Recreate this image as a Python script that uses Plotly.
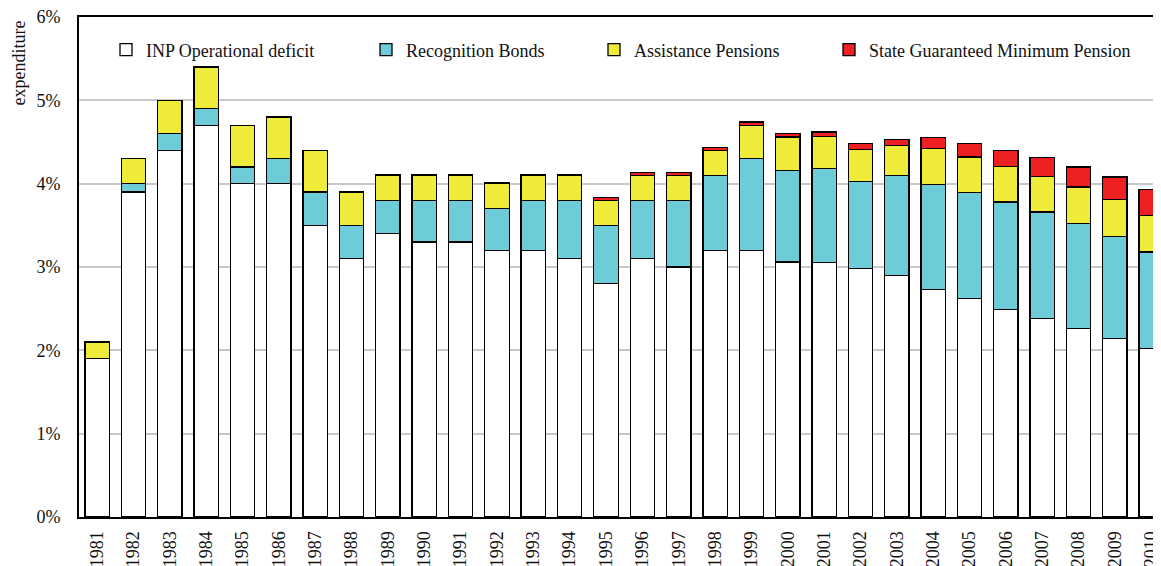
import plotly.graph_objects as go

years = [str(y) for y in range(1981, 2011)]
inp_deficit = [1.90, 3.90, 4.40, 4.70, 4.00, 4.00, 3.50, 3.10, 3.40, 3.30,
               3.30, 3.20, 3.20, 3.10, 2.80, 3.10, 3.00, 3.20, 3.20, 3.06,
               3.05, 2.98, 2.90, 2.73, 2.62, 2.49, 2.38, 2.26, 2.14, 2.02]
recognition_bonds = [0.00, 0.10, 0.20, 0.20, 0.20, 0.30, 0.40, 0.40, 0.40, 0.50,
                     0.50, 0.50, 0.60, 0.70, 0.70, 0.70, 0.80, 0.90, 1.10, 1.10,
                     1.13, 1.05, 1.20, 1.26, 1.27, 1.29, 1.28, 1.26, 1.23, 1.16]
assistance_pensions = [0.20, 0.30, 0.40, 0.50, 0.50, 0.50, 0.50, 0.40, 0.30, 0.30,
                       0.30, 0.30, 0.30, 0.30, 0.30, 0.30, 0.30, 0.30, 0.40, 0.40,
                       0.39, 0.38, 0.36, 0.43, 0.43, 0.43, 0.43, 0.44, 0.44, 0.44]
state_min_pension = [0.00, 0.00, 0.00, 0.00, 0.00, 0.00, 0.00, 0.00, 0.01, 0.01,
                     0.01, 0.01, 0.01, 0.01, 0.03, 0.03, 0.03, 0.03, 0.04, 0.04,
                     0.05, 0.07, 0.07, 0.13, 0.16, 0.19, 0.22, 0.24, 0.27, 0.31]
y_ticks = [0, 1, 2, 3, 4, 5, 6]
y_tick_labels = ["0%", "1%", "2%", "3%", "4%", "5%", "6%"]

series = [
    ("INP Operational deficit", inp_deficit, "#FFFFFF", "legend", 145),
    ("Recognition Bonds", recognition_bonds, "#6ECBD8", "legend2", 405),
    ("Assistance Pensions", assistance_pensions, "#EEEB3B", "legend3", 633),
    ("State Guaranteed Minimum Pension", state_min_pension, "#ED2124", "legend4", 868),
]

FONT = "Liberation Serif"
W, H = 1161, 566
OFF = 8  # page body margin
# target plot area on the page: x 79..1161, y 17..517
L = 79 - OFF
T = 17 - OFF
R = (W + OFF) - 1161
B = H - (517 - OFF)
pw = W - L - R
ph = H - T - B

fig = go.Figure()
layout_legends = {}
for name, vals, color, leg, text_x in series:
    fig.add_trace(go.Bar(
        x=years, y=vals, name=name, legend=leg,
        marker=dict(color=color, line=dict(color="#000000", width=1.3)),
    ))
    lx = (text_x - 39 - 79) / pw
    layout_legends[leg] = dict(
        x=lx, xanchor="left", y=(517 - 50) / ph, yanchor="middle",
        orientation="h", bgcolor="rgba(0,0,0,0)", borderwidth=0,
        font=dict(family=FONT, size=18, color="#111111"),
        itemwidth=30,
    )

fig.update_layout(
    width=W, height=H,
    margin=dict(l=L, r=R, t=T, b=B, pad=0, autoexpand=False),
    barmode="stack", bargap=0.33,
    plot_bgcolor="#FFFFFF", paper_bgcolor="#FFFFFF",
    font=dict(family=FONT, size=18, color="#111111"),
    showlegend=True,
    **layout_legends,
)
fig.update_xaxes(
    type="category", range=[-0.5, 29.27], automargin=False,
    tickangle=-90, tickfont=dict(family=FONT, size=18, color="#111111"),
    showline=True, linecolor="#000000", linewidth=2, mirror=True,
    ticks="", showgrid=False, ticklabelstandoff=5, ticklabeloverflow="allow",
)
fig.update_yaxes(
    range=[0, 6], tickvals=y_ticks, ticktext=y_tick_labels, automargin=False,
    tickfont=dict(family=FONT, size=18, color="#111111"),
    showline=True, linecolor="#000000", linewidth=2,
    showgrid=True, gridcolor="#C8C8C8", gridwidth=1.5,
    ticks="", ticklabelstandoff=13, zeroline=False, ticklabeloverflow="allow",
)
fig.add_annotation(
    text="expenditure", textangle=-90, showarrow=False,
    xref="paper", yref="paper", x=(18 - 79) / pw, y=(517 - 19) / ph,
    xanchor="center", yanchor="top",
    font=dict(family=FONT, size=18, color="#111111"),
)
fig.write_html("out.html")
